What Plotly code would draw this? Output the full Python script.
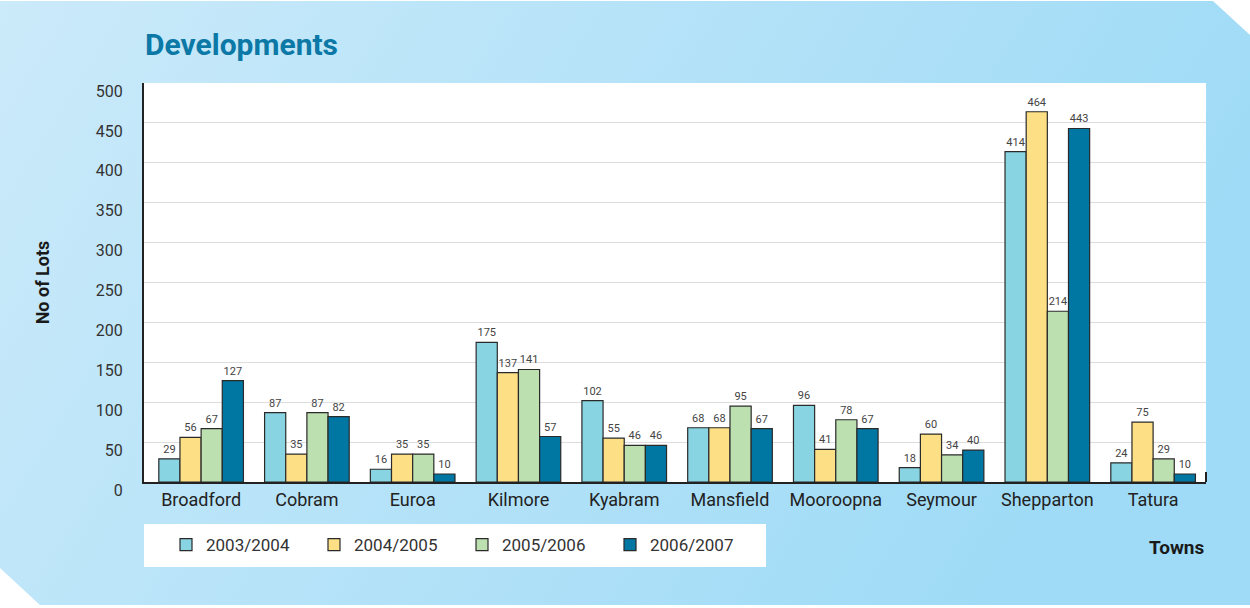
import plotly.graph_objects as go
import base64

towns = ["Broadford", "Cobram", "Euroa", "Kilmore", "Kyabram", "Mansfield",
         "Mooroopna", "Seymour", "Shepparton", "Tatura"]
y2003 = [29, 87, 16, 175, 102, 68, 96, 18, 414, 24]
y2004 = [56, 35, 35, 137, 55, 68, 41, 60, 464, 75]
y2005 = [67, 87, 35, 141, 46, 95, 78, 34, 214, 29]
y2006 = [127, 82, 10, 57, 46, 67, 67, 40, 443, 10]
series_names = ["2003/2004", "2004/2005", "2005/2006", "2006/2007"]
colors = ["#88d4e2", "#fde085", "#bde0b0", "#0076a3"]
y_ticks = [0, 50, 100, 150, 200, 250, 300, 350, 400, 450, 500]

W, H = 1250, 608
L, R, T, B = 144, 44, 83, 126
pw, ph = W - L - R, H - T - B

FONT = "Roboto, Arial"

fig = go.Figure()
for name, vals, col in zip(series_names, [y2003, y2004, y2005, y2006], colors):
    fig.add_trace(go.Bar(
        x=towns, y=vals, name=name,
        marker=dict(color=col, line=dict(color="#2a2a2a", width=1.2)),
        text=[str(v) for v in vals], textposition="outside",
        textfont=dict(size=11, color="#444", family=FONT),
        cliponaxis=False,
    ))

svg = f'''<svg xmlns="http://www.w3.org/2000/svg" width="{W}" height="{H}" viewBox="0 0 {W} {H}">
<defs><linearGradient id="g" x1="0" y1="0" x2="1" y2="0.3">
<stop offset="0" stop-color="#cbeafa"/><stop offset="1" stop-color="#9fdbf6"/></linearGradient></defs>
<polygon points="0,1 1213,1 1250,35 1250,605 40,605 0,568" fill="url(#g)"/></svg>'''
src = "data:image/svg+xml;base64," + base64.b64encode(svg.encode()).decode()

fig.update_layout(
    width=W, height=H,
    margin=dict(l=L, r=R, t=T, b=B, pad=0),
    paper_bgcolor="white", plot_bgcolor="white",
    barmode="group", bargap=0.2, bargroupgap=0,
    font=dict(family=FONT, color="#333"),
    showlegend=True,
    legend=dict(orientation="h", x=0, xanchor="left", y=-(545 - 482) / ph, yanchor="middle",
                bgcolor="rgba(0,0,0,0)", font=dict(size=17, color="#333", family=FONT),
                entrywidth=81, indentation=22, itemclick=False,
                traceorder="normal"),
    images=[dict(source=src, xref="paper", yref="paper",
                 x=-L / pw, y=1 + T / ph, sizex=W / pw, sizey=H / ph,
                 xanchor="left", yanchor="top", sizing="stretch", layer="below")],
    shapes=[
        dict(type="rect", xref="paper", yref="paper", x0=0, x1=1, y0=0, y1=1,
             fillcolor="white", line=dict(width=0), layer="below"),
        dict(type="rect", xref="paper", yref="paper",
             x0=0, x1=(766 - L) / pw, y0=-(524 - 482) / ph, y1=-(567 - 482) / ph,
             fillcolor="white", line=dict(width=0), layer="below"),
        dict(type="line", xref="paper", yref="paper", x0=1, x1=1,
             y0=0, y1=10 / ph, line=dict(color="#222", width=2)),
    ],
    annotations=[
        dict(text="<b>Developments</b>", xref="paper", yref="paper",
             x=-1 / pw, y=1 + 38 / ph, xanchor="left", yanchor="middle",
             showarrow=False, font=dict(size=30, color="#0b78a6", family=FONT)),
        dict(text="<b>Towns</b>", xref="paper", yref="paper",
             x=1, y=-(547 - 482) / ph, xanchor="right", yanchor="middle",
             showarrow=False, font=dict(size=19, color="#1a1a1a", family=FONT)),
    ],
)
fig.update_xaxes(
    range=[-0.54, 9.5],
    showline=True, linecolor="#222", linewidth=2,
    tickfont=dict(size=18, color="#222", family=FONT),
    ticks="", showgrid=False, fixedrange=True,
)
fig.update_yaxes(
    range=[0, 500], tickvals=y_ticks, showline=True, linecolor="#222", linewidth=2,
    gridcolor="#dddddd", gridwidth=1, zeroline=False,
    tickfont=dict(size=16, color="#333", family=FONT), ticklabelstandoff=16,
    ticklabelshift=8,
    title=dict(text="<b>No of Lots</b>", font=dict(size=18, color="#1a1a1a", family=FONT),
               standoff=42),
    fixedrange=True,
)
fig.write_html("out.html")
